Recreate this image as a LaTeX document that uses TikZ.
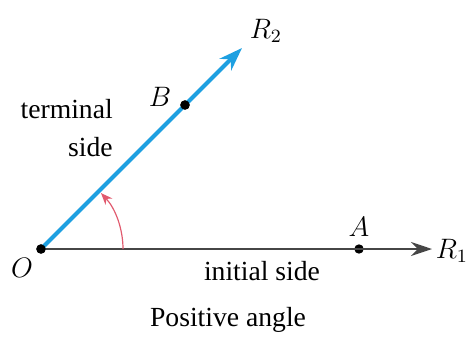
\documentclass[tikz,border=0pt]{standalone}
\usepackage{fontspec}
\setmainfont{Liberation Serif}
\usetikzlibrary{arrows.meta}
\definecolor{rayblue}{RGB}{30,160,225}
\definecolor{arcred}{RGB}{225,90,110}
\definecolor{axisgray}{RGB}{70,70,70}

\tikzset{
  pt/.style={circle, fill=black, inner sep=0pt, minimum size=4pt},
  lbl/.style={font=\fontsize{11.8}{16}\selectfont}
}

\begin{document}
\begin{tikzpicture}[x=0.015cm, y=-0.015cm]
\useasboundingbox (0,0) rectangle (470,336);

% points on the rays
\node[pt] (O) at (41,249) {};
\node[pt] (A) at (359,249) {};
\node[pt] (B) at (185,105) {};
\coordinate (R1end) at (432,249);
\coordinate (R2end) at (242,48);

% initial and terminal sides
\draw[axisgray, line width=0.9pt, -{Stealth[length=9pt,width=6pt]}] (O.center) -- (R1end);
\draw[rayblue, line width=1.8pt, -{Stealth[length=10pt,width=7pt]}] (O.center) -- (R2end);
\node[pt] at (O) {};
\node[pt] at (B) {};

% angle
\draw[arcred, line width=0.5pt, -{Stealth[length=5pt,width=4pt]}] (O.center) ++(0:82) arc[start angle=0, end angle=-43, radius=82];

% labels
\node[lbl] (Olbl) at (22,268) {$O$};
\node[lbl] (Albl) at (359,227) {$A$};
\node[lbl] (Blbl) at (160,97) {$B$};
\node[lbl] (R1lbl) at (452,251) {$R_1$};
\node[lbl] (R2lbl) at (266,31) {$R_2$};
\node[lbl, align=right, anchor=east] (term) at (121,128) {terminal\\side};
\node[lbl] (init) at (262,271) {initial side};
\node[lbl] (title) at (228,320) {Positive angle};
\end{tikzpicture}
\end{document}
